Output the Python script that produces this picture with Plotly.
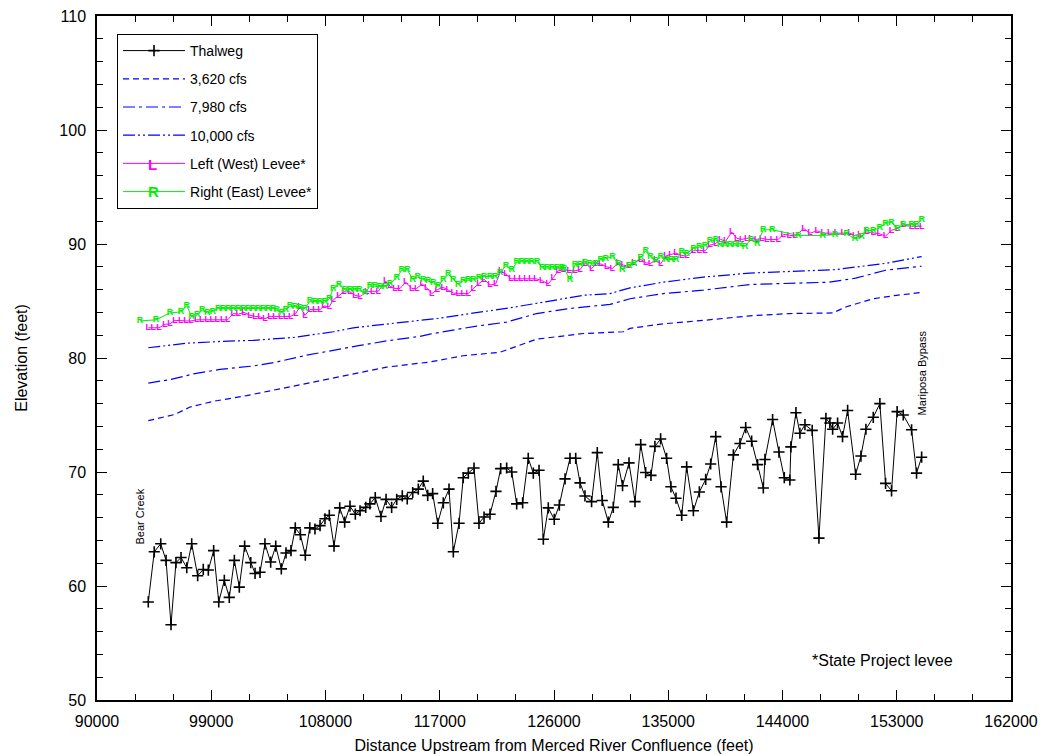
import plotly.graph_objects as go

# ---------------- data ----------------
thalweg_x = [94040, 94510, 95020, 95440, 95830, 96220, 96620, 97070, 97460, 97930,
             98370, 98770, 99190, 99590, 100030, 100420, 100820, 101210, 101630, 102110,
             102450, 102840, 103230, 103680, 104080, 104520, 104890, 105280, 105620, 106020,
             106410, 106760, 107170, 107570, 107960, 108300, 108670, 109120, 109510, 109930,
             110350, 110720, 111170, 111500, 111920, 112370, 112770, 113210, 113610, 114050,
             114440, 114870, 115310, 115700, 116050, 116440, 116840, 117280, 117730, 118070,
             118520, 118850, 119250, 119700, 120090, 120490, 120960, 121430, 121800, 122270,
             122670, 123060, 123530, 123970, 124370, 124820, 125160, 125550, 126020, 126420,
             126870, 127260, 127710, 128050, 128440, 128960, 129410, 129800, 130280, 130670,
             131060, 131400, 131910, 132380, 132830, 133220, 133640, 133950, 134400, 134870,
             135210, 135610, 136060, 136450, 136980, 137450, 137950, 138340, 138740, 139160,
             139600, 140130, 140650, 141100, 141570, 142040, 142490, 142620, 143220, 143720,
             144140, 144580, 144660, 145060, 145370, 145770, 146340, 146870, 147420, 147730,
             147950, 148340, 148730, 149130, 149760, 150180, 150570, 151150, 151670, 152120,
             152590, 153030, 153510, 154170, 154560, 154960]
thalweg_y = [58.6, 63.0, 63.7, 62.25, 56.6, 62.05, 62.5, 61.6, 63.7, 60.9,
             61.45, 61.4, 63.1, 58.6, 60.5, 59.0, 62.25, 59.9, 63.5, 62.05,
             61.1, 61.2, 63.7, 62.1, 63.5, 61.5, 62.9, 63.1, 65.1, 64.5,
             62.7, 65.1, 65.0, 65.3, 65.9, 66.2, 63.5, 66.85, 65.6, 67.0,
             66.3, 66.6, 66.9, 67.2, 67.75, 66.1, 67.6, 66.9, 67.6, 67.9,
             67.65, 68.2, 68.5, 69.2, 67.95, 68.1, 65.5, 67.3, 68.5, 63.0,
             65.5, 69.5, 69.9, 70.35, 65.5, 66.05, 66.3, 68.3, 70.3, 70.35,
             70.0, 67.2, 67.3, 71.2, 69.9, 70.15, 64.1, 66.85, 65.85, 67.1,
             69.4, 71.2, 71.2, 69.05, 67.9, 67.4, 71.7, 67.5, 65.6, 66.9,
             70.65, 68.8, 70.8, 67.4, 72.4, 69.95, 69.7, 72.25, 72.9, 71.2,
             68.7, 67.7, 66.2, 70.45, 66.6, 68.25, 69.35, 70.7, 73.1, 68.7,
             65.6, 71.5, 72.5, 73.9, 72.7, 70.65, 68.6, 71.1, 74.6, 71.75,
             69.5, 69.3, 72.2, 75.2, 73.4, 74.15, 73.65, 64.2, 74.7, 74.3,
             73.75, 74.3, 73.1, 75.4, 69.8, 71.4, 73.75, 74.8, 76.0, 69.0,
             68.35, 75.3, 75.0, 73.7, 69.9, 71.3]

q3620_x = [94040, 96140, 97330, 99160, 101790, 104420, 106520, 108610, 110190, 112820,
           116230, 118850, 121740, 122530, 124630, 128310, 131460, 131990, 134610, 137760,
           141440, 144580, 147950, 149050, 151150, 152990, 154960]
q3620_y = [74.5, 75.05, 75.7, 76.2, 76.7, 77.3, 77.75, 78.2, 78.6, 79.2,
           79.65, 80.2, 80.5, 80.8, 81.65, 82.15, 82.3, 82.6, 83.0, 83.3,
           83.7, 83.9, 83.95, 84.5, 85.2, 85.5, 85.75]

q7980_x = [94040, 95750, 97590, 99690, 102310, 104160, 106520, 108880, 110720, 112820,
           115440, 116230, 119910, 122270, 124630, 127260, 130410, 131990, 134610, 137760,
           141440, 147660, 149760, 152120, 154960]
q7980_y = [77.8, 78.1, 78.6, 79.0, 79.3, 79.65, 80.25, 80.75, 81.1, 81.5,
           81.9, 82.1, 82.8, 83.15, 83.9, 84.35, 84.7, 85.2, 85.65, 85.95,
           86.45, 86.65, 87.0, 87.7, 88.05]

q10000_x = [94040, 97070, 99690, 102310, 105460, 108610, 110190, 114130, 117020, 119380,
            122530, 125160, 128310, 130410, 131990, 134610, 137760, 141440, 147080, 148130,
            152120, 154960]
q10000_y = [80.9, 81.3, 81.45, 81.55, 81.8, 82.3, 82.65, 83.15, 83.5, 83.9,
            84.4, 84.9, 85.5, 85.65, 86.15, 86.65, 87.1, 87.45, 87.7, 87.75,
            88.3, 88.9]

left_x = [94040, 94440, 94880, 95360, 95750, 96140, 96590, 97010, 97400, 97850,
          98250, 98690, 99080, 99480, 99900, 100290, 100740, 101130, 101580, 102050,
          102450, 102840, 103230, 103630, 104020, 104470, 104860, 105260, 105650, 105990,
          106380, 106780, 107170, 107570, 107880, 108300, 108610, 109060, 109460, 109930,
          110320, 110720, 111240, 111720, 112160, 112740, 113080, 113470, 113870, 114320,
          114790, 115180, 115620, 115970, 116370, 116800, 117280, 117670, 118070, 118460,
          118850, 119250, 119640, 120090, 120490, 120960, 121410, 121800, 122220, 122610,
          123010, 123400, 123790, 124190, 124580, 125030, 125550, 125940, 126340, 126730,
          127200, 127650, 128050, 128440, 128970, 129360, 129680, 130150, 130590, 131060,
          131460, 131910, 132300, 132830, 133220, 133610, 134010, 134400, 134820, 135210,
          135610, 136060, 136450, 136980, 137450, 137900, 138290, 138740, 139130, 139530,
          140000, 140400, 140790, 141180, 141510, 141960, 142360, 142750, 143220, 143660,
          144060, 144530, 144980, 145690, 146160, 146740, 147210, 147730, 148260, 148780,
          149310, 149700, 150100, 150630, 151150, 151620, 152120, 152590, 153030, 153510,
          154170, 154560, 154960]
left_y = [82.65, 82.65, 82.65, 82.95, 83.0, 83.3, 83.25, 83.25, 83.25, 83.35,
          83.35, 83.35, 83.35, 83.35, 83.35, 83.35, 83.9, 83.85, 84.0, 83.75,
          83.65, 83.6, 83.45, 83.65, 83.65, 83.65, 83.65, 83.65, 83.9, 84.5,
          83.75, 84.25, 84.25, 84.25, 84.55, 84.5, 85.1, 85.5, 85.8, 85.8,
          85.5, 85.4, 85.8, 85.85, 85.85, 86.75, 86.3, 86.1, 86.1, 86.65,
          86.1, 86.1, 86.5, 86.15, 85.65, 86.0, 86.2, 85.95, 85.7, 85.65,
          85.65, 85.65, 86.1, 86.5, 86.9, 86.4, 86.5, 87.65, 87.35, 86.95,
          86.95, 86.95, 86.95, 86.95, 86.95, 86.8, 86.5, 87.05, 87.65, 87.7,
          87.65, 87.65, 87.75, 88.3, 87.85, 88.3, 88.25, 88.0, 87.85, 88.35,
          88.15, 88.05, 88.35, 88.65, 88.35, 88.3, 88.6, 88.25, 88.95, 89.1,
          89.2, 89.0, 88.95, 89.4, 89.45, 89.4, 89.9, 90.05, 90.4, 90.25,
          91.05, 90.5, 90.4, 90.5, 90.5, 90.4, 90.5, 90.4, 90.4, 90.4,
          90.85, 90.75, 90.7, 91.35, 90.95, 91.15, 90.95, 90.95, 90.95, 90.95,
          90.95, 90.75, 90.85, 91.05, 90.95, 90.9, 90.7, 91.2, 91.35, 91.65,
          91.55, 91.55, 91.55]

right_x = [93390, 94650, 95750, 96620, 97070, 97460, 97900, 98290, 98690, 99110,
           99550, 99950, 100340, 100740, 101130, 101530, 101920, 102310, 102710, 103100,
           103490, 103880, 104160, 104550, 104860, 105200, 105600, 105990, 106380, 106780,
           107170, 107570, 107960, 108300, 108610, 109060, 109540, 109930, 110320, 110660,
           111110, 111500, 111900, 112290, 112690, 113080, 113610, 114000, 114440, 114870,
           115260, 115700, 116100, 116490, 116890, 117280, 117670, 118070, 118460, 118850,
           119250, 119640, 120090, 120490, 120960, 121350, 121740, 122210, 122670, 123060,
           123450, 123850, 124240, 124680, 125080, 125470, 125870, 126260, 126650, 126810,
           127260, 127650, 128050, 128440, 128830, 129280, 129680, 130070, 130600, 131060,
           131380, 131910, 132300, 132830, 133220, 133610, 134010, 134400, 134820, 135210,
           135610, 136060, 136450, 136980, 137450, 137900, 138290, 138740, 139080, 139470,
           139870, 140260, 140650, 141040, 141510, 142010, 142490, 143190, 145240, 147170,
           148130, 149050, 149710, 150230, 150620, 151150, 151670, 152120, 152590, 153030,
           153510, 154170, 154560, 154960]
right_y = [83.25, 83.35, 83.95, 84.05, 84.6, 83.6, 83.8, 84.2, 83.95, 84.1,
           84.35, 84.35, 84.3, 84.35, 84.35, 84.3, 84.35, 84.35, 84.3, 84.35,
           84.3, 84.35, 84.2, 84.0, 84.2, 84.55, 84.5, 84.45, 84.35, 85.0,
           84.95, 84.95, 84.9, 85.2, 86.1, 86.45, 85.95, 86.0, 86.0, 85.95,
           85.7, 86.3, 86.3, 86.25, 86.25, 86.5, 87.05, 87.7, 87.75, 86.9,
           87.1, 86.9, 86.75, 86.6, 86.3, 86.9, 87.35, 86.9, 86.45, 86.8,
           86.85, 86.85, 87.05, 87.15, 87.15, 87.1, 87.45, 88.1, 87.7, 88.4,
           88.45, 88.45, 88.45, 88.45, 87.9, 87.9, 87.9, 87.9, 87.9, 87.8,
           86.9, 88.2, 88.2, 88.35, 88.3, 88.3, 88.65, 88.7, 88.9, 88.3,
           87.75, 88.05, 88.3, 88.8, 89.4, 88.85, 88.5, 88.9, 88.65, 88.65,
           88.65, 89.3, 89.15, 89.6, 89.75, 89.85, 90.25, 90.4, 89.9, 89.9,
           89.9, 89.9, 89.9, 89.8, 90.4, 90.05, 91.25, 91.25, 90.75, 90.75,
           90.85, 90.9, 90.45, 90.6, 91.2, 91.15, 91.45, 91.8, 91.9, 91.35,
           91.7, 91.7, 91.7, 92.15]

x_ticks = [90000, 99000, 108000, 117000, 126000, 135000, 144000, 153000, 162000]
y_ticks = [50, 60, 70, 80, 90, 100, 110]

FONT = "Liberation Sans, Arial, sans-serif"
BLUE = "#0000ff"
MAGENTA = "#ff00ff"
GREEN = "#00f000"

fig = go.Figure()

fig.add_trace(go.Scatter(
    x=thalweg_x, y=thalweg_y, name="Thalweg", mode="lines+markers", legendgroup="a",
    line=dict(color="black", width=1),
    marker=dict(symbol="cross-thin", size=8, line=dict(color="black", width=1.6)),
))
fig.add_trace(go.Scatter(
    x=q3620_x, y=q3620_y, name="3,620 cfs", mode="lines", legendgroup="b",
    line=dict(color=BLUE, width=1.2, dash="6px,4px"),
))
fig.add_trace(go.Scatter(
    x=q7980_x, y=q7980_y, name="7,980 cfs", mode="lines", legendgroup="c",
    line=dict(color=BLUE, width=1.2, dash="12px,4px,3px,4px"),
))
fig.add_trace(go.Scatter(
    x=q10000_x, y=q10000_y, name="10,000 cfs", mode="lines", legendgroup="d",
    line=dict(color=BLUE, width=1.2, dash="12px,3px,2px,3px,2px,3px"),
))
fig.add_trace(go.Scatter(
    x=left_x, y=left_y, name="Left (West) Levee*", mode="lines+text", legendgroup="e",
    text="L", textposition="middle center",
    textfont=dict(color=MAGENTA, size=9, family=FONT, weight="bold"),
    line=dict(color=MAGENTA, width=1),
))
fig.add_trace(go.Scatter(
    x=right_x, y=right_y, name="Right (East) Levee*", mode="lines+text", legendgroup="f",
    text="R", textposition="middle center",
    textfont=dict(color=GREEN, size=9, family=FONT, weight="bold"),
    line=dict(color=GREEN, width=1),
))

axis_common = dict(
    showgrid=False, zeroline=False, showline=True, linecolor="black", linewidth=1.5,
    mirror="ticks", ticks="inside", ticklen=10, tickwidth=1, tickcolor="black",
    tickfont=dict(family=FONT, size=16, color="black"), automargin=False,
    ticklabeloverflow="allow",
)

fig.update_xaxes(
    range=[90000, 162000], tickvals=x_ticks, ticktext=[str(v) for v in x_ticks],
    minor=dict(dtick=3000, tick0=90000, ticks="inside", ticklen=6, tickcolor="black"),
    title=dict(text="Distance Upstream from Merced River Confluence (feet)",
               font=dict(family=FONT, size=16, color="black"), standoff=11),
    ticklabelstandoff=6,
    **axis_common,
)
fig.update_yaxes(
    range=[50, 110], tickvals=y_ticks, ticktext=[str(v) for v in y_ticks],
    minor=dict(dtick=2, tick0=50, ticks="inside", ticklen=6, tickcolor="black"),
    title=dict(text="Elevation (feet)", font=dict(family=FONT, size=16, color="black"), standoff=28),
    ticklabelstandoff=6,
    **axis_common,
)

fig.add_annotation(x=93390, y=66.1, text="Bear Creek", textangle=-90, showarrow=False,
                   font=dict(family=FONT, size=11, color="black"))
fig.add_annotation(x=154956, y=78.7, text="Mariposa Bypass", textangle=-90, showarrow=False,
                   font=dict(family=FONT, size=11, color="black"))
fig.add_annotation(x=151900, y=53.5, text="*State Project levee", showarrow=False,
                   font=dict(family=FONT, size=16, color="black"))

# letter symbols on the legend samples of the two levee entries
fig.add_annotation(xref="paper", yref="paper", x=0.0536, y=0.7982, text="<b>L</b>",
                   showarrow=False, font=dict(family=FONT, size=15, color=MAGENTA))
fig.add_annotation(xref="paper", yref="paper", x=0.0536, y=0.7587, text="<b>R</b>",
                   showarrow=False, font=dict(family=FONT, size=15, color=GREEN))

# the page body adds an 8 px margin, so the figure is 8 px smaller and margins shifted
fig.update_layout(
    width=1038, height=747,
    margin=dict(l=89, r=35, t=8, b=55),
    paper_bgcolor="white", plot_bgcolor="white",
    font=dict(family=FONT, color="black"),
    legend=dict(x=0.0219, y=0.9737, xanchor="left", yanchor="top",
                bgcolor="white", bordercolor="black", borderwidth=1,
                font=dict(family=FONT, size=14, color="black"),
                tracegroupgap=7, itemwidth=62),
    showlegend=True,
)

fig.write_html("out.html")
